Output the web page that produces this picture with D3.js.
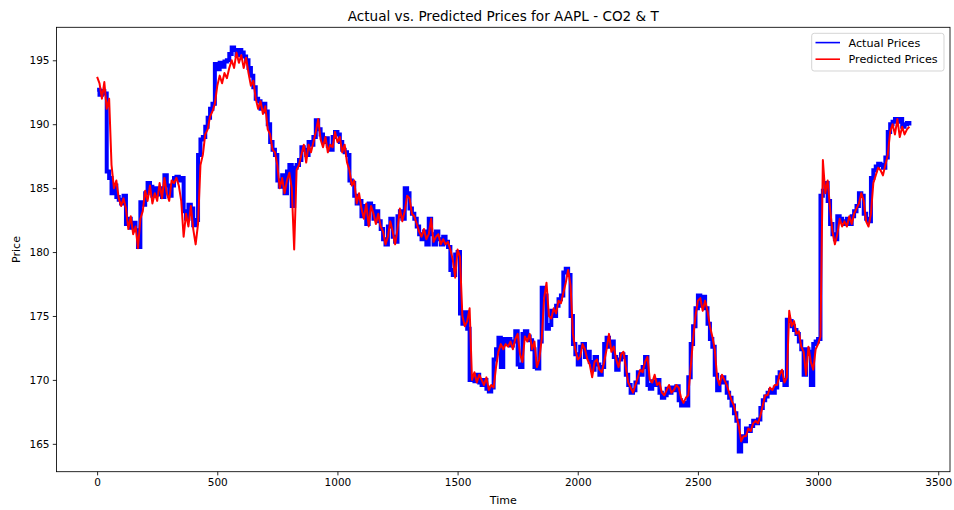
<!DOCTYPE html>
<html>
<head>
<meta charset="utf-8">
<script src="https://cdn.jsdelivr.net/npm/d3@7"></script>
<style>
  html, body { margin: 0; padding: 0; background: #fff; }
  svg { display: block; font-family: "DejaVu Sans", sans-serif; }
</style>
</head>
<body>
<svg id="chart" width="954" height="510"></svg>
<script>
// Sampling grid: one observation every 10 time steps
const timeStep = 10;

// Actual closing prices (AAPL)
const actualPrices = [
  192.7, 192.3, 192.6, 192.4, 186.3, 185.8, 184.6, 185.2, 184.3, 184.1,
  183.8, 184.4, 182.2, 182.6, 181.9, 182.3, 181.7, 180.4, 183.9, 183.7,
  184.6, 185.4, 185.1, 184.4, 185.0, 184.5, 185.0, 184.3, 186.0, 185.2,
  184.4, 185.2, 185.8, 185.9, 185.6, 185.8, 183.2, 182.6, 183.7, 183.4,
  182.1, 182.5, 187.6, 188.8, 189.0, 189.8, 190.5, 191.2, 191.6, 194.7,
  194.3, 194.8, 194.5, 194.9, 195.0, 195.5, 196.0, 195.8, 195.4, 195.8,
  195.6, 195.3, 195.0, 194.4, 193.8, 192.9, 192.0, 191.8, 191.2, 191.6,
  191.0, 190.0, 188.6, 188.0, 187.6, 185.6, 185.1, 186.0, 184.6, 186.3,
  186.8, 183.6, 186.6, 186.8, 187.2, 188.2, 188.0, 187.6, 188.6, 188.4,
  189.0, 190.3, 189.6, 189.2, 188.6, 188.9, 188.3, 188.0, 189.0, 189.4,
  189.2, 188.6, 188.0, 187.8, 187.6, 185.6, 185.4, 184.4, 183.8, 184.0,
  182.8, 183.6, 182.2, 183.8, 183.6, 182.6, 183.2, 182.4, 181.8, 181.0,
  180.6, 182.0, 182.6, 181.2, 180.8, 182.8, 183.2, 182.6, 185.0, 184.6,
  183.4, 183.0, 182.6, 182.0, 181.4, 181.0, 181.6, 180.6, 182.6, 181.4,
  180.6, 181.6, 181.0, 180.6, 181.2, 180.8, 180.4, 178.6, 178.2, 179.8,
  180.0, 175.2, 174.4, 175.3, 174.0, 170.0, 170.3, 169.9, 170.4, 169.8,
  169.6, 170.0, 169.3, 169.1, 169.4, 171.6, 172.4, 173.3, 171.0, 173.2,
  172.8, 173.2, 172.7, 173.0, 173.8, 171.2, 171.0, 173.6, 173.8, 173.4,
  173.1, 172.4, 171.0, 170.9, 173.0, 177.2, 176.6, 174.0, 174.3, 175.4,
  175.0, 175.8, 176.3, 176.6, 178.4, 178.7, 178.2, 175.0, 172.8, 172.0,
  171.2, 172.6, 172.8, 171.8, 172.2, 171.4, 170.8, 171.8, 171.2, 170.4,
  171.0, 172.8, 173.3, 172.6, 173.0, 171.8, 170.8, 171.6, 172.0, 171.8,
  170.4, 169.6, 169.0, 169.2, 169.8, 170.6, 170.4, 171.0, 171.8, 169.6,
  169.3, 169.9, 169.6, 170.0, 169.0, 168.6, 168.8, 169.3, 169.0, 169.4,
  169.2, 169.5, 168.4, 168.0, 168.2, 168.0, 170.2, 172.8, 174.2, 175.6,
  176.6, 175.8, 176.5, 175.6, 174.4, 173.2, 172.6, 170.4, 169.2, 169.8,
  170.2, 169.8, 169.0, 168.6, 168.0, 167.4, 166.8, 164.4, 165.6, 165.2,
  166.2, 166.0, 166.4, 166.8, 166.6, 166.9, 167.8, 168.4, 168.7, 169.0,
  169.2, 169.0, 169.4, 170.2, 170.6, 170.0, 169.6, 174.7, 174.6, 174.2,
  173.9, 173.6, 173.0, 172.4, 170.4, 172.4, 172.2, 169.6, 172.8, 173.0,
  173.2, 184.4, 184.8, 185.4, 184.0, 182.2, 181.4, 181.0, 182.8, 182.6,
  182.4, 182.2, 182.6, 182.2, 182.8, 183.2, 183.6, 184.6, 184.4, 183.0,
  182.6, 182.4, 185.8, 186.4, 186.7, 186.9, 186.8, 186.6, 187.4, 189.4,
  190.0, 190.2, 190.4, 190.2, 190.4, 189.8, 190.0, 190.1, 189.9
];

// Model predictions for the same time steps
const predictedPrices = [
  193.7, 193.2, 192.0, 193.3, 191.2, 192.0, 186.8, 185.0, 185.6, 184.2,
  183.6, 184.2, 183.4, 181.8, 182.8, 181.4, 182.0, 180.3, 182.6, 183.2,
  184.8, 184.0, 185.2, 183.8, 184.6, 184.0, 185.4, 184.2, 185.8, 184.6,
  184.0, 185.6, 185.4, 185.8, 185.2, 184.0, 181.2, 183.0, 182.0, 183.6,
  181.8, 180.6, 182.2, 186.8, 187.6, 189.2, 189.6, 190.6, 191.0, 191.6,
  193.0, 193.8, 193.2, 194.0, 193.6, 194.4, 195.0, 194.4, 195.6, 194.8,
  195.4, 194.4, 195.2, 194.0, 193.0, 193.4, 192.0, 191.2, 191.8, 190.8,
  191.4, 189.6, 189.2, 188.0, 187.8, 186.8, 185.0, 185.8, 184.6, 185.6,
  186.2, 185.0, 180.2, 186.4, 186.8, 187.6, 188.4, 187.0, 188.4, 187.8,
  188.6, 189.4, 190.4, 188.8, 188.2, 189.0, 187.8, 188.4, 188.2, 189.4,
  188.6, 189.0, 187.8, 188.4, 187.0, 186.4, 185.2, 185.6, 183.8, 184.6,
  183.4, 182.6, 183.8, 182.0, 183.6, 183.0, 182.2, 183.0, 182.0, 181.6,
  180.6, 181.2, 182.4, 181.6, 180.6, 181.8, 183.4, 182.4, 183.2, 184.4,
  184.2, 183.0, 182.8, 182.2, 181.6, 181.2, 181.8, 181.0, 181.4, 182.6,
  180.8, 181.2, 181.4, 180.6, 181.0, 180.6, 180.8, 180.2, 179.4, 178.0,
  180.2, 179.6, 175.0, 174.2, 174.6, 175.6, 170.0, 170.6, 169.8, 170.4,
  170.0, 169.6, 170.2, 169.2, 169.6, 169.4, 171.0, 172.2, 172.8, 172.4,
  172.8, 172.6, 173.0, 172.4, 173.2, 173.6, 172.0, 171.4, 173.4, 173.0,
  173.6, 172.4, 173.0, 171.0, 171.6, 173.2, 176.4, 177.6, 175.0, 174.8,
  175.6, 175.2, 176.2, 176.0, 176.8, 177.6, 178.6, 177.4, 173.6, 172.4,
  171.6, 171.8, 172.8, 172.4, 171.6, 171.2, 170.2, 171.4, 171.6, 170.8,
  170.6, 171.4, 172.4, 173.6, 172.2, 172.6, 171.6, 171.0, 172.0, 172.2,
  171.0, 169.8, 169.4, 169.0, 169.6, 170.2, 170.8, 170.6, 171.4, 171.8,
  170.0, 169.8, 170.4, 169.6, 169.8, 169.0, 168.8, 169.2, 169.6, 169.0,
  169.2, 169.6, 169.4, 168.6, 168.2, 168.6, 168.8, 171.0, 173.2, 175.0,
  176.2, 176.4, 175.4, 176.2, 175.4, 174.2, 173.4, 172.4, 170.2, 169.6,
  170.4, 170.0, 169.6, 169.0, 168.4, 168.0, 167.2, 166.4, 165.2, 165.6,
  165.6, 166.2, 166.0, 166.6, 166.8, 166.6, 167.2, 168.0, 168.8, 168.8,
  169.4, 169.2, 169.6, 169.6, 170.4, 170.8, 169.8, 170.2, 175.4, 174.2,
  174.6, 173.6, 173.8, 172.6, 172.2, 170.4, 172.6, 171.4, 170.8, 172.4,
  172.8, 173.4, 187.2, 184.6, 185.6, 183.4, 181.6, 180.6, 181.4, 182.6,
  182.0, 182.4, 182.0, 182.8, 182.2, 183.0, 183.4, 183.8, 184.6, 184.0,
  182.4, 182.0, 183.0, 185.4, 186.0, 186.6, 186.4, 186.0, 186.8, 187.6,
  189.4, 190.0, 189.2, 190.4, 189.0, 189.8, 189.2, 189.6, 189.8
];

const xTicks = [0, 500, 1000, 1500, 2000, 2500, 3000, 3500];
const yTicks = [165, 170, 175, 180, 185, 190, 195];
const seriesNames = ["Actual Prices", "Predicted Prices"];
const seriesColors = ["#0000ff", "#ff0000"];
const titleText = "Actual vs. Predicted Prices for AAPL - CO2 & T";

const svg = d3.select("#chart");
const W = 954, H = 510;
const plot = { left: 56.5, top: 27.3, right: 950, bottom: 471.7 };

const actual = actualPrices.map((v, i) => ({ t: i * timeStep, v }));
const predicted = predictedPrices.map((v, i) => ({ t: i * timeStep, v }));

// Axis limits with 5% padding around the data, as in matplotlib
const tExt = d3.extent(actual, d => d.t);
const tPad = (tExt[1] - tExt[0]) * 0.05;
const vExt = d3.extent(actualPrices.concat(predictedPrices));
const vPad = (vExt[1] - vExt[0]) * 0.05;

const x = d3.scaleLinear()
  .domain([tExt[0] - tPad, tExt[1] + tPad])
  .range([plot.left, plot.right]);
const y = d3.scaleLinear()
  .domain([vExt[0] - vPad, vExt[1] + vPad])
  .range([plot.bottom, plot.top]);

svg.append("rect").attr("width", W).attr("height", H).attr("fill", "#fff");

svg.append("clipPath").attr("id", "plot-clip")
  .append("rect")
  .attr("x", plot.left).attr("y", plot.top)
  .attr("width", plot.right - plot.left).attr("height", plot.bottom - plot.top);

const lines = svg.append("g").attr("clip-path", "url(#plot-clip)");

const actualLine = d3.line().x(d => x(d.t)).y(d => y(d.v)).curve(d3.curveStepAfter);
const predictedLine = d3.line().x(d => x(d.t)).y(d => y(d.v));

lines.append("path")
  .datum(actual)
  .attr("d", actualLine)
  .attr("fill", "none")
  .attr("stroke", seriesColors[0])
  .attr("stroke-width", 4)
  .attr("stroke-linejoin", "miter");

lines.append("path")
  .datum(predicted)
  .attr("d", predictedLine)
  .attr("fill", "none")
  .attr("stroke", seriesColors[1])
  .attr("stroke-width", 2)
  .attr("stroke-linejoin", "round");

// Axes
const tickFont = 10.5;
const labelFont = 11;
const xAxis = svg.append("g")
  .attr("transform", `translate(0,${plot.bottom})`)
  .call(d3.axisBottom(x).tickValues(xTicks).tickFormat(d3.format("d"))
    .tickSize(3.7).tickPadding(3.3).tickSizeOuter(0));
const yAxis = svg.append("g")
  .attr("transform", `translate(${plot.left},0)`)
  .call(d3.axisLeft(y).tickValues(yTicks).tickFormat(d3.format("d"))
    .tickSize(3.7).tickPadding(3.3).tickSizeOuter(0));

[xAxis, yAxis].forEach(g => {
  g.select(".domain").remove();
  g.selectAll(".tick line").attr("stroke", "#000").attr("stroke-width", 0.85);
  g.selectAll(".tick text")
    .attr("fill", "#000")
    .style("font-family", "DejaVu Sans, sans-serif")
    .style("font-size", tickFont + "px");
});

// Frame
svg.append("rect")
  .attr("x", plot.left).attr("y", plot.top)
  .attr("width", plot.right - plot.left).attr("height", plot.bottom - plot.top)
  .attr("fill", "none").attr("stroke", "#000").attr("stroke-width", 0.85);

// Labels
svg.append("text")
  .attr("x", (plot.left + plot.right) / 2).attr("y", 20.5)
  .attr("text-anchor", "middle")
  .style("font-size", "13.6px")
  .attr("fill", "#000")
  .text(titleText);

svg.append("text")
  .attr("x", (plot.left + plot.right) / 2).attr("y", 504)
  .attr("text-anchor", "middle")
  .style("font-size", labelFont + "px")
  .attr("fill", "#000")
  .text("Time");

svg.append("text")
  .attr("transform", `translate(20,${(plot.top + plot.bottom) / 2}) rotate(-90)`)
  .attr("text-anchor", "middle")
  .style("font-size", labelFont + "px")
  .attr("fill", "#000")
  .text("Price");

// Legend
const legend = svg.append("g");
legend.append("rect")
  .attr("x", 811.7).attr("y", 33.3)
  .attr("width", 132.3).attr("height", 37.7)
  .attr("rx", 2.5)
  .attr("fill", "#fff").attr("fill-opacity", 0.8)
  .attr("stroke", "#cccccc").attr("stroke-width", 0.85);

seriesNames.forEach((name, i) => {
  const ly = 42.6 + i * 16.6;
  legend.append("line")
    .attr("x1", 815.5).attr("x2", 840)
    .attr("y1", ly).attr("y2", ly)
    .attr("stroke", seriesColors[i]).attr("stroke-width", 1.6);
  legend.append("text")
    .attr("x", 848.5).attr("y", ly + 4)
    .style("font-size", "11.2px")
    .attr("fill", "#000")
    .text(name);
});
</script>
</body>
</html>
